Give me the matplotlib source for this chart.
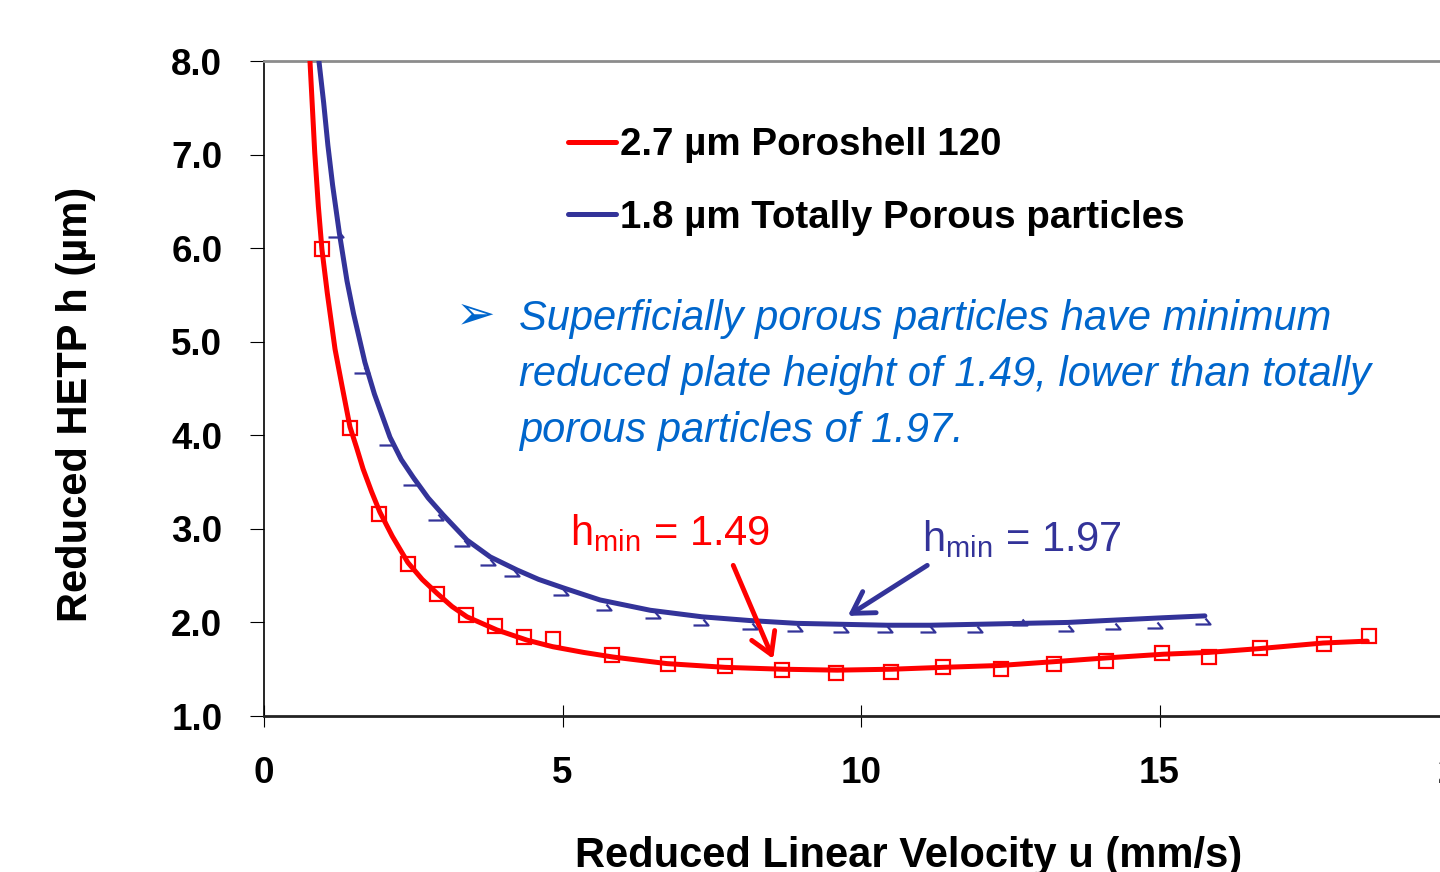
import matplotlib
matplotlib.use("Agg")
import matplotlib.pyplot as plt
from matplotlib.path import Path

plt.rcParams["font.family"] = ["Liberation Sans", "DejaVu Sans"]
plt.rcParams["mathtext.fontset"] = "custom"
plt.rcParams["mathtext.rm"] = "Liberation Sans"
plt.rcParams["mathtext.it"] = "Liberation Sans:italic"

RED = "#ff0000"
NAVY = "#333399"
NOTE_BLUE = "#0066cc"

# 2.7 um Poroshell 120 - measured points (u, h)
red_u = [0.97, 1.44, 1.93, 2.41, 2.90, 3.38, 3.87, 4.36, 4.84, 5.83, 6.77, 7.72,
         8.68, 9.58, 10.50, 11.37, 12.35, 13.23, 14.10, 15.04, 15.83, 16.68,
         17.76, 18.51]
red_h = [5.99, 4.08, 3.16, 2.62, 2.30, 2.08, 1.96, 1.84, 1.82, 1.65, 1.56, 1.53,
         1.49, 1.46, 1.47, 1.52, 1.50, 1.56, 1.59, 1.67, 1.63, 1.73, 1.77, 1.86]

# 2.7 um fitted curve
red_fit_u = [0.77, 0.85, 0.91, 0.97, 1.06, 1.19, 1.30, 1.44, 1.55, 1.66, 1.80,
             1.94, 2.15, 2.41, 2.65, 2.90, 3.15, 3.40, 3.90, 4.41, 4.84, 5.35,
             5.85, 6.75, 7.72, 8.68, 9.60, 10.52, 11.37, 12.33, 13.22, 14.09,
             15.06, 15.83, 16.67, 17.74, 18.48]
red_fit_h = [8.00, 7.02, 6.45, 5.99, 5.52, 4.92, 4.55, 4.09, 3.87, 3.64, 3.40,
             3.18, 2.92, 2.64, 2.46, 2.31, 2.17, 2.06, 1.92, 1.81, 1.74, 1.68,
             1.63, 1.56, 1.52, 1.50, 1.49, 1.50, 1.52, 1.54, 1.58, 1.62, 1.66,
             1.68, 1.72, 1.78, 1.80]

# 1.8 um totally porous - measured points
blue_u = [1.24, 1.68, 2.09, 2.50, 2.91, 3.35, 3.79, 4.19, 5.01, 5.73, 6.55, 7.35,
          8.17, 8.93, 9.70, 10.44, 11.16, 11.94, 12.70, 13.47, 14.25, 14.96, 15.76]
blue_h = [6.20, 4.75, 3.98, 3.55, 3.18, 2.90, 2.70, 2.58, 2.38, 2.22, 2.13, 2.06,
          2.02, 1.99, 1.98, 1.98, 1.98, 1.98, 2.06, 1.99, 2.01, 2.03, 2.07]

# 1.8 um fitted curve
blue_fit_u = [0.92, 1.00, 1.07, 1.15, 1.26, 1.39, 1.50, 1.69, 1.85, 2.11, 2.30,
              2.50, 2.75, 3.00, 3.40, 3.79, 4.24, 4.60, 5.01, 5.63, 6.47, 7.34,
              8.14, 8.93, 9.68, 10.44, 11.16, 11.94, 12.70, 13.47, 14.09, 15.06,
              15.76]
blue_fit_h = [8.00, 7.55, 7.10, 6.67, 6.17, 5.65, 5.30, 4.78, 4.44, 3.98, 3.74,
              3.55, 3.33, 3.15, 2.88, 2.70, 2.56, 2.46, 2.37, 2.24, 2.13, 2.06,
              2.02, 1.99, 1.98, 1.97, 1.97, 1.98, 1.99, 2.00, 2.02, 2.05, 2.07]

x_ticks = [0, 5, 10, 15, 20]
y_ticks = [1, 2, 3, 4, 5, 6, 7, 8]

series_labels = ["2.7 \u00b5m Poroshell 120", "1.8 \u00b5m Totally Porous particles"]
note_lines = [
    "Superficially porous particles have minimum",
    "reduced plate height of 1.49, lower than totally",
    "porous particles of 1.97.",
]

# odd hook-shaped marker of the totally porous series
hook = Path([(0, -2), (5, -8), (-10, -8)],
            [Path.MOVETO, Path.LINETO, Path.LINETO])

fig = plt.figure(figsize=(14.4, 8.72), dpi=100)
fig.patch.set_facecolor("white")
ax = fig.add_axes([264 / 1440, 1 - 716 / 872, 1194 / 1440, 655 / 872])

l_red, = ax.plot(red_fit_u, red_fit_h, color=RED, lw=3.6,
                 solid_joinstyle="round", solid_capstyle="round", zorder=3)
l_blue, = ax.plot(blue_fit_u, blue_fit_h, color=NAVY, lw=3.6,
                  solid_joinstyle="round", solid_capstyle="round", zorder=3)
ax.plot(red_u, red_h, ls="none", marker="s", ms=10, mfc="none", mec=RED,
        mew=1.6, zorder=4)
ax.plot(blue_u, blue_h, ls="none", marker=hook, ms=14.4, mfc="none", mec=NAVY,
        mew=1.6, zorder=4)

ax.set_xlim(0, 20)
ax.set_ylim(1, 8)
ax.set_xticks(x_ticks)
ax.set_yticks(y_ticks)
ax.set_yticklabels([f"{v:.1f}" for v in y_ticks])

ax.spines["left"].set_color("black")
ax.spines["left"].set_linewidth(1.2)
ax.spines["bottom"].set_color("#222222")
ax.spines["bottom"].set_linewidth(2.0)
ax.spines["top"].set_color("#8c8c8c")
ax.spines["top"].set_linewidth(2.0)
ax.spines["right"].set_visible(False)

ax.tick_params(axis="x", direction="inout", length=16, width=0.8, pad=20.5,
               labelsize=26.5)
ax.tick_params(axis="y", direction="out", length=10, width=0.8, pad=20,
               labelsize=26.5)
for lab in ax.get_xticklabels() + ax.get_yticklabels():
    lab.set_fontweight("bold")

ax.set_xlabel("Reduced Linear Velocity u (mm/s)", fontsize=30, fontweight="bold")
ax.set_ylabel("Reduced HETP h (\u00b5m)", fontsize=30, fontweight="bold")
ax.xaxis.set_label_coords(0.54, -0.183)
ax.yaxis.set_label_coords(-0.141, 0.475)

ax.legend([l_red, l_blue], series_labels, loc="upper left",
          bbox_to_anchor=(568 / 1440, 1 - 127 / 872),
          bbox_transform=fig.transFigure, frameon=False, borderpad=0,
          borderaxespad=0, handlelength=1.24, handletextpad=0.1,
          labelspacing=0.96, prop=dict(weight="bold", size=27.7))

# callout text
fig.text(456 / 1440, 1 - 316 / 872, "\u27a2", family="DejaVu Sans",
         fontsize=34, color=NOTE_BLUE, ha="left", va="center")
for i, line in enumerate(note_lines):
    fig.text(519 / 1440, 1 - (330 + 56 * i) / 872, line, fontsize=30,
             style="italic", color=NOTE_BLUE, ha="left", va="baseline")

# h_min annotations
ax.text(5.12, 2.83, r"$\mathrm{h_{min}}$ = 1.49", color=RED, fontsize=30,
        ha="left", va="baseline")
ax.text(11.02, 2.76, r"$\mathrm{h_{min}}$ = 1.97", color=NAVY, fontsize=30,
        ha="left", va="baseline")
ax.annotate("", xy=(8.53, 1.61), xytext=(7.86, 2.61),
            arrowprops=dict(arrowstyle="->,head_length=0.5,head_width=0.3",
                            color=RED, lw=3.5, shrinkA=0, shrinkB=0,
                            mutation_scale=30))
ax.annotate("", xy=(9.78, 2.07), xytext=(11.11, 2.61),
            arrowprops=dict(arrowstyle="->,head_length=0.5,head_width=0.3",
                            color=NAVY, lw=3.5, shrinkA=0, shrinkB=0,
                            mutation_scale=30))

fig.savefig("out.png", dpi=100, facecolor="white")
